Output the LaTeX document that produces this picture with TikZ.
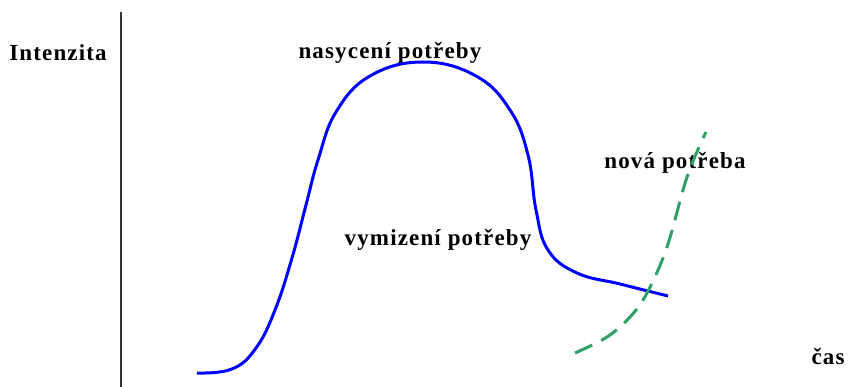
\documentclass[tikz,border=0pt]{standalone}
\usepackage{fontspec}
\setmainfont{Liberation Serif}
\usepackage{tikz}
\definecolor{newgreen}{RGB}{48,160,104}
\tikzstyle{label} = [font=\bfseries\fontsize{23}{27}\selectfont\addfontfeature{LetterSpace=5}, inner sep=0pt]
\tikzstyle{need} = [line width=3pt, blue, line join=round]
\tikzstyle{newneed} = [line width=3pt, newgreen, dash pattern=on 19pt off 10pt]

\begin{document}
\begin{tikzpicture}[x=1pt, y=-1pt]
  \useasboundingbox (0,0) rectangle (864,387);
  \draw [line width=1.5pt, black!80] (121,12) -- (121,387);
  \node (intenzita)[label] at (58,53) {Intenzita};
  \node (cas)[label] at (828,357) {čas};
  \node (nasyceni)[label] at (390,53) {nasycení potřeby};
  \node (vymizeni)[label] at (438,240) {vymizení potřeby};
  \node (nova)[label] at (675,163) {nová potřeba};
  \draw [need] plot[smooth, tension=0.7] coordinates {(197,373) (232,369) (256,348) (275,310) (292,258) (306,205) (318,160) (336,112) (370,76) (423,62) (476,76) (510,110) (528,155) (536,210) (548,250) (577,273) (620,284) (668,296)};
  \draw [newneed] plot[smooth, tension=0.6] coordinates {(575,353) (607,337) (630,317) (647,293) (667,247) (687,177) (706,132)};
\end{tikzpicture}
\end{document}
